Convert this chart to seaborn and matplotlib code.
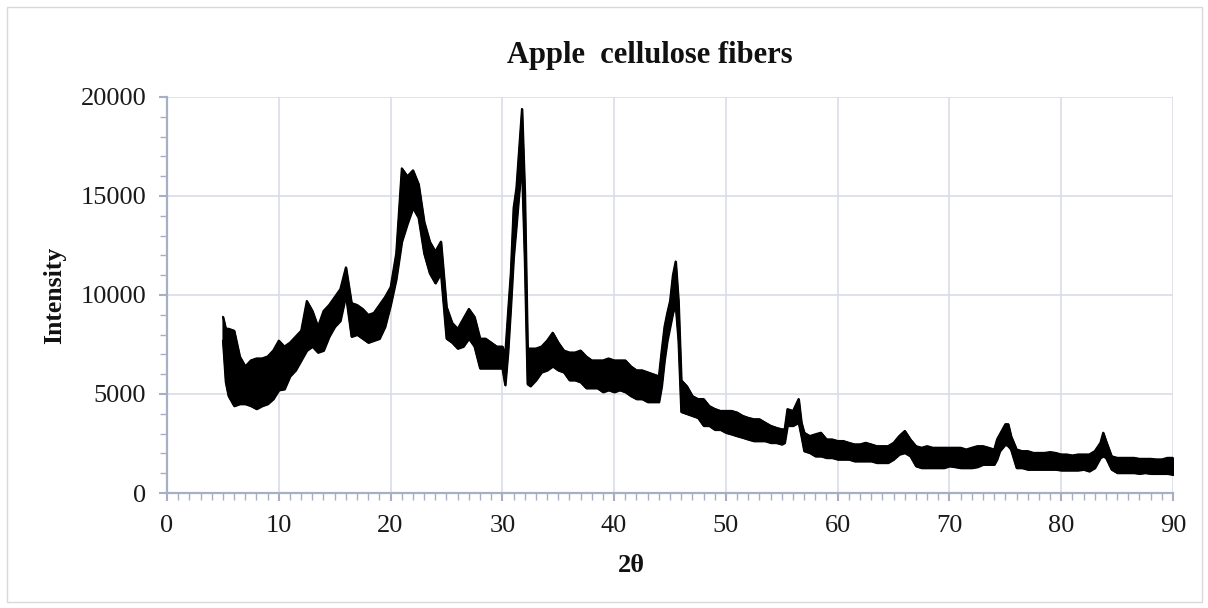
import numpy as np
import pandas as pd
import matplotlib
matplotlib.use("Agg")
import matplotlib.pyplot as plt
from matplotlib.ticker import MultipleLocator
from matplotlib.patches import Rectangle
import seaborn as sns

# XRD scan of apple cellulose fibers: 2θ positions with the lower and upper
# edges of the noisy intensity trace at each position.
two_theta = [
    5.0, 5.25, 5.5, 6.0, 6.5, 7.0, 7.5, 8.0, 8.5, 9.0, 9.5, 10.0, 10.5, 11.0, 11.5,
    12.0, 12.5, 13.0, 13.5, 14.0, 14.5, 15.0, 15.5, 16.0, 16.5, 17.0, 17.5, 18.0,
    18.5, 19.0, 19.5, 20.0, 20.5, 21.0, 21.5, 22.0, 22.5, 23.0, 23.5, 24.0, 24.5,
    25.0, 25.5, 26.0, 26.5, 27.0, 27.5, 28.0, 28.5, 29.0, 29.5, 30.0, 30.25, 30.5,
    30.75, 31.0, 31.25, 31.5, 31.75, 32.0, 32.25, 32.5, 33.0, 33.5, 34.0, 34.5,
    35.0, 35.5, 36.0, 36.5, 37.0, 37.5, 38.0, 38.5, 39.0, 39.5, 40.0, 40.5, 41.0,
    41.5, 42.0, 42.5, 43.0, 43.5, 44.0, 44.25, 44.5, 44.75, 45.0, 45.25, 45.5,
    45.75, 46.0, 46.5, 47.0, 47.5, 48.0, 48.5, 49.0, 49.5, 50.0, 50.5, 51.0, 51.5,
    52.0, 52.5, 53.0, 53.5, 54.0, 54.5, 55.0, 55.25, 55.5, 56.0, 56.5, 56.75, 57.0,
    57.5, 58.0, 58.5, 59.0, 59.5, 60.0, 60.5, 61.0, 61.5, 62.0, 62.5, 63.0, 63.5,
    64.0, 64.5, 65.0, 65.5, 66.0, 66.5, 67.0, 67.5, 68.0, 68.5, 69.0, 69.5, 70.0,
    70.5, 71.0, 71.5, 72.0, 72.5, 73.0, 73.5, 74.0, 74.25, 74.5, 75.0, 75.25, 75.5,
    76.0, 76.5, 77.0, 77.5, 78.0, 78.5, 79.0, 79.5, 80.0, 80.5, 81.0, 81.5, 82.0,
    82.5, 83.0, 83.5, 83.75, 84.0, 84.5, 85.0, 85.5, 86.0, 86.5, 87.0, 87.5, 88.0,
    88.5, 89.0, 89.5, 90.0,
]
intensity_low = [
    7700, 5600, 4900, 4400, 4500, 4500, 4400, 4250, 4400, 4500, 4750, 5200, 5250, 5900, 6200,
    6700, 7200, 7400, 7100, 7200, 7900, 8400, 8700, 10000, 7900, 8000, 7800, 7600,
    7700, 7800, 8400, 9500, 10800, 12700, 13600, 14400, 13900, 12100, 11100, 10600, 11100,
    7800, 7600, 7300, 7400, 7800, 7400, 6300, 6300, 6300, 6300, 6300, 5450, 7100,
    9400, 11900, 13500, 15200, 16500, 11800, 5500, 5400, 5700, 6100, 6200, 6400,
    6200, 6100, 5700, 5700, 5600, 5300, 5300, 5300, 5100, 5200, 5100, 5200, 5100,
    4900, 4750, 4750, 4600, 4600, 4600, 5400, 6700, 7700, 8400, 9100, 9500,
    7700, 4100, 4000, 3900, 3800, 3400, 3400, 3200, 3200, 3050, 2970, 2880, 2800,
    2710, 2630, 2630, 2630, 2540, 2540, 2460, 2540, 3400, 3400, 3560, 2880, 2120,
    2030, 1860, 1860, 1780, 1780, 1700, 1700, 1700, 1610, 1610, 1610, 1610, 1530,
    1530, 1530, 1700, 1950, 2030, 1860, 1360, 1270, 1270, 1270, 1270, 1270, 1360,
    1320, 1270, 1270, 1270, 1320, 1440, 1440, 1440, 1700, 2120, 2460, 2370, 2200,
    1270, 1270, 1190, 1190, 1190, 1190, 1190, 1190, 1150, 1150, 1150, 1150, 1190,
    1100, 1270, 1780, 1860, 1780, 1190, 1020, 1020, 1020, 1020, 980, 1020, 980,
    980, 980, 980, 930,
]
intensity_high = [
    8900, 8300, 8300, 8200, 6900, 6400, 6700, 6800, 6800, 6900, 7200, 7700, 7400, 7600, 7900,
    8200, 9700, 9200, 8400, 9200, 9500, 9900, 10300, 11400, 9600, 9500, 9300, 9000,
    9100, 9500, 9900, 10400, 12100, 16400, 16000, 16300, 15600, 13700, 12700, 12200, 12700,
    9400, 8600, 8300, 8800, 9300, 8900, 7800, 7800, 7600, 7400, 7400, 7000, 9100,
    11100, 14400, 15400, 17400, 19400, 15200, 7300, 7300, 7300, 7400, 7700, 8100,
    7600, 7200, 7100, 7100, 7200, 6900, 6700, 6700, 6700, 6800, 6700, 6700, 6700,
    6400, 6200, 6200, 6100, 6000, 5900, 7200, 8400, 9100, 9700, 11000, 11700,
    9700, 5700, 5400, 4900, 4750, 4750, 4400, 4250, 4150, 4150, 4150, 4070, 3900,
    3800, 3730, 3730, 3560, 3400, 3300, 3220, 3220, 4240, 4150, 4750, 3560, 3050,
    2880, 2970, 3050, 2710, 2710, 2630, 2630, 2540, 2460, 2460, 2540, 2460, 2370,
    2370, 2370, 2540, 2880, 3140, 2710, 2370, 2290, 2370, 2290, 2290, 2290, 2290,
    2290, 2290, 2200, 2290, 2370, 2370, 2290, 2200, 2710, 2970, 3480, 3480, 2880,
    2200, 2120, 2120, 2030, 2030, 2030, 2070, 2030, 1950, 1950, 1900, 1950, 1950,
    1950, 2120, 2540, 3050, 2630, 1860, 1780, 1780, 1780, 1780, 1730, 1730, 1730,
    1700, 1700, 1780, 1780,
]

x_major_ticks = [0, 10, 20, 30, 40, 50, 60, 70, 80, 90]
y_major_ticks = [0, 5000, 10000, 15000, 20000]

scan = pd.DataFrame({"2θ": two_theta, "low": intensity_low, "high": intensity_high})

sns.set_theme(style="white")
plt.rcParams["font.family"] = ["Liberation Serif", "DejaVu Serif"]

W, H = 1208, 608
fig = plt.figure(figsize=(W / 100, H / 100), dpi=100)
fig.patch.set_facecolor("white")

ax_left, ax_right, ax_top, ax_bottom = 167, 1173, 97, 493
ax = fig.add_axes([ax_left / W, 1 - ax_bottom / H,
                   (ax_right - ax_left) / W, (ax_bottom - ax_top) / H])

axis_col = "#a7b0c2"
grid_col = "#d9dde6"

# the noisy trace drawn as a solid band between its lower and upper edges
ax.fill_between(scan["2θ"], scan["low"], scan["high"], color="black",
                linewidth=1.4, edgecolor="black", zorder=3)
sns.lineplot(data=scan, x="2θ", y="high", ax=ax, color="black", linewidth=1.4,
             estimator=None, zorder=4)
sns.lineplot(data=scan, x="2θ", y="low", ax=ax, color="black", linewidth=1.4,
             estimator=None, zorder=4)

ax.set_xlim(x_major_ticks[0], x_major_ticks[-1])
ax.set_ylim(y_major_ticks[0], y_major_ticks[-1])
ax.set_xticks(x_major_ticks)
ax.set_yticks(y_major_ticks)
ax.xaxis.set_minor_locator(MultipleLocator(1))
ax.yaxis.set_minor_locator(MultipleLocator(1000))

ax.grid(True, which="major", color=grid_col, linewidth=1.2, zorder=0)
ax.set_axisbelow(True)
for side in ("top", "right"):
    ax.spines[side].set_visible(False)
for side in ("left", "bottom"):
    ax.spines[side].set_color(axis_col)
    ax.spines[side].set_linewidth(1.6)
    ax.spines[side].set_zorder(5)

ax.tick_params(axis="both", which="major", direction="out", length=6,
               width=1.5, color=axis_col, labelsize=19, labelcolor="#1a1a1a",
               bottom=True, left=True)
ax.tick_params(axis="both", which="minor", direction="out", length=5,
               width=1.0, color=axis_col, bottom=True, left=True)
ax.tick_params(axis="x", which="major", pad=10)
ax.tick_params(axis="y", which="major", pad=9)
ax.set_xlabel("")
ax.set_ylabel("")

fig.text(650 / W, 1 - 63 / H, "Apple  cellulose fibers", ha="center",
         va="baseline", fontsize=22, fontweight="bold", color="#111111")
fig.text(631 / W, 1 - 572 / H, "2θ", ha="center", va="baseline",
         fontsize=19, fontweight="bold", color="#111111")
fig.text(55 / W, 1 - 295 / H, "Intensity", ha="center", va="center",
         rotation=90, fontsize=18.5, fontweight="bold", color="#111111")

# light frame around the whole chart area
fig.patches.append(Rectangle((6.5 / W, 6.5 / H), (W - 13) / W, (H - 13) / H,
                             transform=fig.transFigure, fill=False,
                             edgecolor="#d9d9d9", linewidth=1.0))

fig.savefig("out.png", dpi=100, facecolor="white")
